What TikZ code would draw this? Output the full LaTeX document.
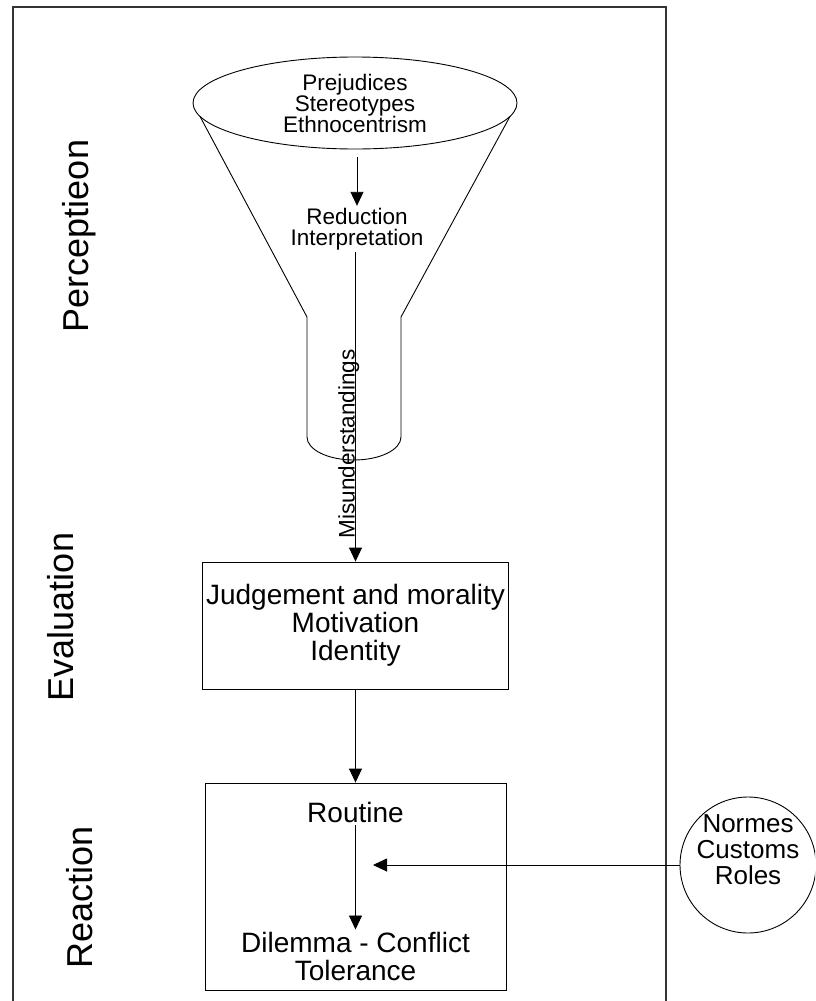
\documentclass[tikz,border=0pt]{standalone}
\usepackage{fontspec}
\setmainfont{Liberation Sans}
\usetikzlibrary{arrows.meta,shapes.geometric}
\newcommand{\fsz}[2]{\fontsize{#1}{#2}\selectfont}
\begin{document}
\begin{tikzpicture}[x=1pt,y=-1pt,
  ln/.style={line width=0.9pt, draw=black},
  arr/.style={line width=0.9pt, -{Triangle[length=14pt,width=13pt]}},
  side/.style={rotate=90, anchor=base, inner sep=0pt, font=\fsz{36}{36}},
  boxtxt/.style={align=center, font=\fsz{28}{28}},
  smalltxt/.style={align=center, font=\fsz{22.5}{21}}]
\useasboundingbox (0,0) rectangle (815,1001);
\clip (0,0) rectangle (815,1001);
% frame
\draw[line width=1.3pt, draw=black!80] (13,1020) -- (13,7) -- (666,7) -- (666,1020);
% side labels
\node[side] (perc) at (88,236) {Perceptieon};
\node[side] (evl) at (73,617) {Evaluation};
\node[side] (reac) at (92,897) {Reaction};
% funnel
\node[ln, ellipse, minimum width=324pt, minimum height=92pt, inner sep=0pt, smalltxt] (top) at (355,103) {Prejudices\\Stereotypes\\Ethnocentrism};
\draw[ln] (200,116.4) -- (307,317) -- (307,437) arc[start angle=180, end angle=360, x radius=47pt, y radius=23pt] -- (401,317) -- (510,116.4);
\node[smalltxt, inner sep=2pt] (red) at (357,229) {Reduction\\Interpretation};
\coordinate (s0) at (357,157);
\draw[arr] (s0) -- (red.north);
% evaluation box
\node[ln, minimum width=305pt, minimum height=127pt, boxtxt] (eval) at (355.5,625.5) {Judgement and morality\\Motivation\\Identity};
\draw[arr] (red.south -| eval.north) -- node[pos=0.62, rotate=90, anchor=base, inner sep=0pt, yshift=1pt, font=\fsz{22.5}{22}] (mis) {Misunderstandings} (eval.north);
% reaction box
\node[ln, minimum width=301pt, minimum height=207pt] (react) at (355.5,886.5) {};
\draw[arr] (eval.south) -- (react.north);
\node[boxtxt, inner sep=3pt] (rout) at (355.5,812) {Routine};
\node[boxtxt, inner sep=2pt] (dil) at (355.5,956) {Dilemma - Conflict\\Tolerance};
\draw[arr] (rout.south) -- (dil.north);
% circle
\node[ln, circle, minimum size=136pt, inner sep=0pt] (circ) at (748,865) {};
\node[align=center, font=\fsz{26}{26}] (circtxt) at (748,850) {Normes\\Customs\\Roles};
\coordinate (tgt) at (373,865);
\draw[arr] (circ.west) -- (tgt);
\end{tikzpicture}
\end{document}
